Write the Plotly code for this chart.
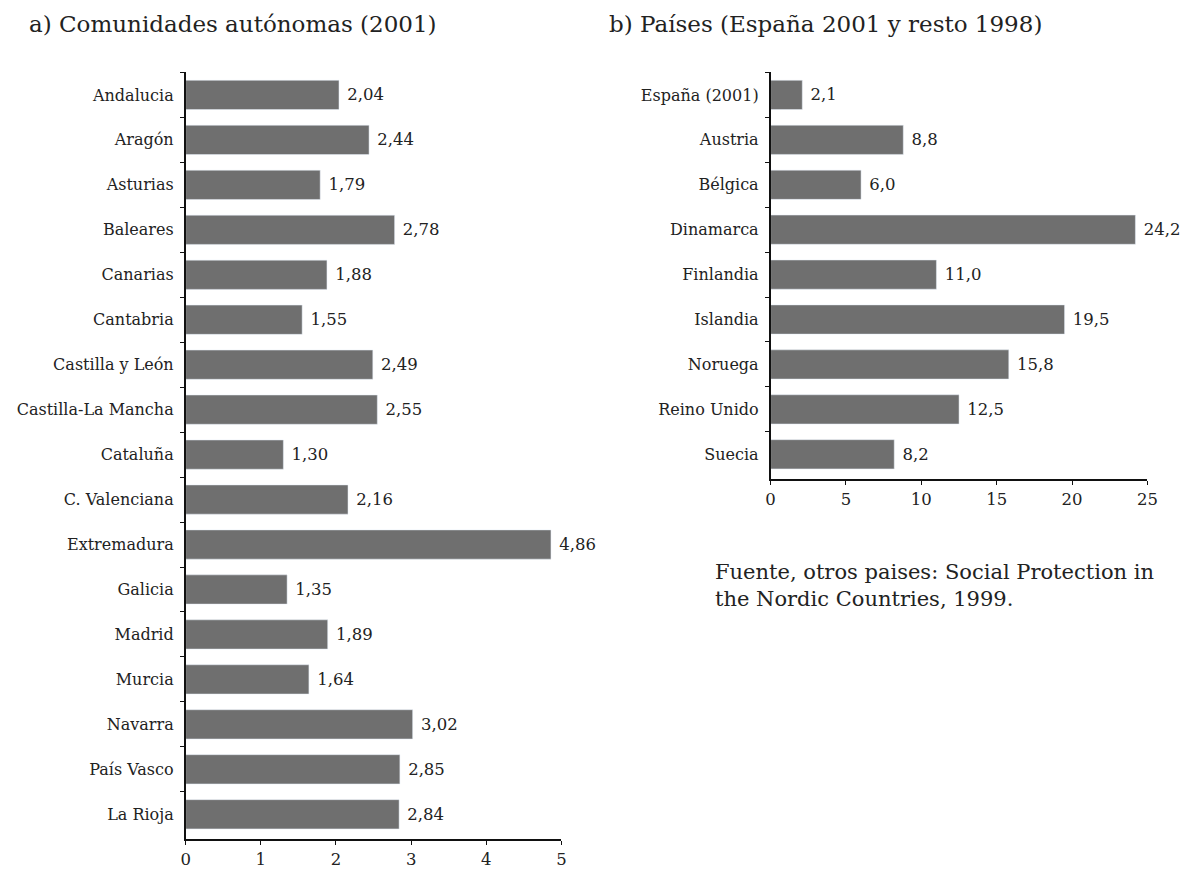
import plotly.graph_objects as go

regiones = ["Andalucia", "Aragón", "Asturias", "Baleares", "Canarias", "Cantabria",
            "Castilla y León", "Castilla-La Mancha", "Cataluña", "C. Valenciana",
            "Extremadura", "Galicia", "Madrid", "Murcia", "Navarra", "País Vasco", "La Rioja"]
valores_reg = [2.04, 2.44, 1.79, 2.78, 1.88, 1.55, 2.49, 2.55, 1.30, 2.16,
               4.86, 1.35, 1.89, 1.64, 3.02, 2.85, 2.84]

paises = ["España (2001)", "Austria", "Bélgica", "Dinamarca", "Finlandia",
          "Islandia", "Noruega", "Reino Unido", "Suecia"]
valores_pais = [2.1, 8.8, 6.0, 24.2, 11.0, 19.5, 15.8, 12.5, 8.2]

ticks_a = [0, 1, 2, 3, 4, 5]
ticks_b = [0, 5, 10, 15, 20, 25]

FONT = "DejaVu Serif"
BAR = "#6f6f6f"
OFF = 8  # page body margin
W, H = 1192 - OFF, 869 - OFF

def px_x(p):
    return (p - OFF) / W

def px_y(p):
    return 1 - (p - OFF) / H

fig = go.Figure()
fig.add_trace(go.Bar(
    x=valores_reg, y=regiones, orientation="h", marker_color=BAR,
    texttemplate=" %{x:.2f}", textposition="outside", cliponaxis=False,
    textfont=dict(family=FONT, size=16.5, color="#222"),
    xaxis="x", yaxis="y", width=0.65, hoverinfo="skip"))
fig.add_trace(go.Bar(
    x=valores_pais, y=paises, orientation="h", marker_color=BAR,
    texttemplate=" %{x:.1f}", textposition="outside", cliponaxis=False,
    textfont=dict(family=FONT, size=16.5, color="#222"),
    xaxis="x2", yaxis="y2", width=0.65, hoverinfo="skip"))

axis_common = dict(showline=True, linecolor="#111", linewidth=1.5, showgrid=False,
                   zeroline=False, ticks="outside", ticklen=4, tickcolor="#111",
                   tickfont=dict(family=FONT, size=16.5, color="#222"))
ycat_font = dict(family=FONT, size=16, color="#222")

fig.update_layout(
    width=W, height=H, margin=dict(l=0, r=0, t=0, b=0),
    paper_bgcolor="white", plot_bgcolor="white", showlegend=False,
    separators=",.",
    font=dict(family=FONT, color="#222"),
    xaxis=dict(domain=[px_x(183), px_x(564)], range=[0, 5], tickvals=ticks_a,
               anchor="y", **axis_common),
    yaxis=dict(domain=[px_y(839), px_y(72)], range=[16.55, -0.51], type="category",
               categoryorder="array", categoryarray=regiones, tickson="boundaries",
               ticklabelstandoff=7, anchor="x", **{**axis_common, "tickfont": ycat_font}),
    xaxis2=dict(domain=[px_x(776), px_x(1158)], range=[0, 25], tickvals=ticks_b,
                anchor="y2", **axis_common),
    yaxis2=dict(domain=[px_y(479), px_y(72)], range=[8.55, -0.51], type="category",
                categoryorder="array", categoryarray=paises, tickson="boundaries",
                ticklabelstandoff=7, anchor="x2", **{**axis_common, "tickfont": ycat_font}),
    annotations=[
        dict(text="a) Comunidades autónomas (2001)", x=px_x(22), y=px_y(24),
             xref="paper", yref="paper", xanchor="left", yanchor="middle", showarrow=False,
             font=dict(family=FONT, size=23, color="#222")),
        dict(text="b) Países (España 2001 y resto 1998)", x=px_x(610), y=px_y(24),
             xref="paper", yref="paper", xanchor="left", yanchor="middle", showarrow=False,
             font=dict(family=FONT, size=23, color="#222")),
        dict(text="Fuente, otros paises: Social Protection in<br>the Nordic Countries, 1999.",
             x=px_x(718), y=px_y(558), xref="paper", yref="paper", xanchor="left",
             yanchor="top", align="left", showarrow=False,
             font=dict(family=FONT, size=21, color="#222")),
    ],
)

fig.write_html("out.html")
